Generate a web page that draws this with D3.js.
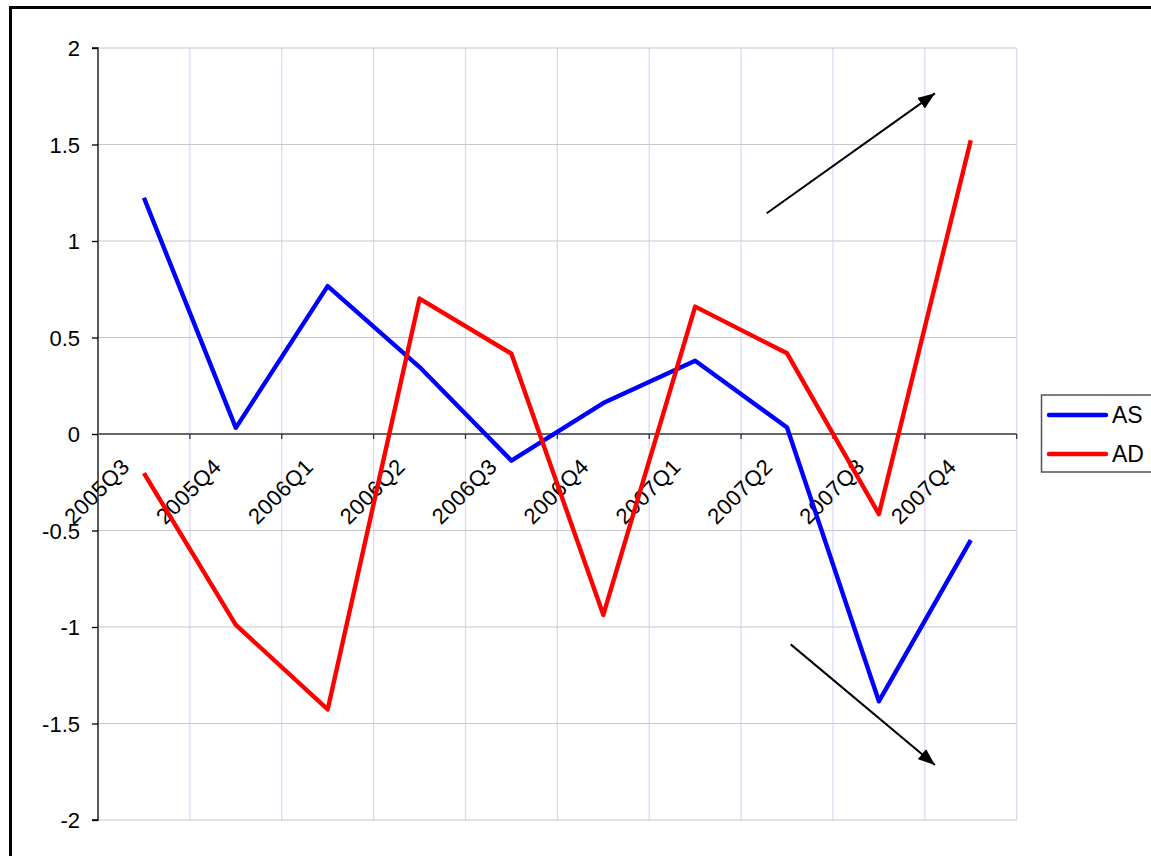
<!DOCTYPE html>
<html>
<head>
<meta charset="utf-8">
<script src="https://cdn.jsdelivr.net/npm/d3@7"></script>
<style>
  html, body { margin: 0; padding: 0; background: #fff; }
  svg { display: block; font-family: "Liberation Sans", Arial, sans-serif; }
</style>
</head>
<body>
<svg id="chart" width="1151" height="856"></svg>
<script>
// ---- data ----
const categories = ["2005Q3","2005Q4","2006Q1","2006Q2","2006Q3","2006Q4","2007Q1","2007Q2","2007Q3","2007Q4"];
const asValues = [1.224, 0.032, 0.766, 0.347, -0.138, 0.16, 0.38, 0.034, -1.385, -0.55];
const adValues = [-0.203, -0.989, -1.427, 0.702, 0.416, -0.937, 0.66, 0.418, -0.415, 1.522];
const yTicks = [-2, -1.5, -1, -0.5, 0, 0.5, 1, 1.5, 2];
const seriesNames = ["AS", "AD"];
const seriesColors = ["#0000ff", "#ff0000"];
// arrow annotations in data space: [categoryPosition, value]
const arrowStarts = [[7.279, 1.144], [7.540, -1.090]];
const arrowEnds = [[9.110, 1.765], [9.110, -1.715]];

(function () {
// ---- layout ----
const svg = d3.select("#chart");
const pLeft = 98, pRight = 1016.7, pTop = 48, pBottom = 820;
const fontSize = 22;

const x = d3.scaleBand().domain(categories).range([pLeft, pRight]).padding(0);
const xPos = d3.scaleLinear().domain([0, categories.length]).range([pLeft, pRight]);
const y = d3.scaleLinear().domain([-2, 2]).range([pBottom, pTop]);

// outer border
svg.append("rect").attr("x", 10.5).attr("y", 7.5).attr("width", 1300).attr("height", 1000)
  .attr("fill", "#fff").attr("stroke", "#000").attr("stroke-width", 3);

// vertical gridlines at category boundaries
const boundaries = d3.range(1, categories.length + 1);
svg.append("g").selectAll("line").data(boundaries).join("line")
  .attr("x1", d => xPos(d)).attr("x2", d => xPos(d))
  .attr("y1", pTop).attr("y2", pBottom)
  .attr("stroke", "#d6d6ff").attr("stroke-width", 1.2);

// horizontal gridlines
svg.append("g").selectAll("line").data(yTicks.filter(v => v !== 0)).join("line")
  .attr("x1", pLeft).attr("x2", pRight)
  .attr("y1", d => y(d)).attr("y2", d => y(d))
  .attr("stroke", "#c8c8c8").attr("stroke-width", 1.2);

// y axis
const yAxis = d3.axisLeft(y).tickValues(yTicks).tickSize(6).tickPadding(12)
  .tickFormat(d => String(d));
const gy = svg.append("g").attr("transform", `translate(${pLeft},0)`).call(yAxis);
gy.select(".domain").attr("stroke", "#000").attr("stroke-width", 1.3)
  .attr("d", `M-6,${y(2)}H0V${y(-2)}H-6`);
gy.selectAll(".tick line").attr("stroke", "#000").attr("stroke-width", 1.3);
gy.selectAll(".tick text").attr("font-size", fontSize).attr("fill", "#000")
  .attr("font-family", "Liberation Sans, Arial, sans-serif").attr("dy", "0.35em");

// zero (category) axis
const y0 = y(0);
svg.append("line").attr("x1", pLeft).attr("x2", pRight).attr("y1", y0).attr("y2", y0)
  .attr("stroke", "#666").attr("stroke-width", 2);
svg.append("g").selectAll("line").data(boundaries).join("line")
  .attr("x1", d => xPos(d)).attr("x2", d => xPos(d))
  .attr("y1", y0).attr("y2", y0 + 5)
  .attr("stroke", "#333").attr("stroke-width", 1.3);

// category labels
svg.append("g").selectAll("text").data(categories).join("text")
  .attr("transform", d => `translate(${x(d) + x.bandwidth() / 2 - 13},${y0 + 34}) rotate(-45)`)
  .attr("text-anchor", "end")
  .attr("font-size", fontSize).attr("fill", "#000")
  .attr("letter-spacing", 0.5)
  .text(d => d);

// series lines
const line = d3.line().x((d, i) => x(categories[i]) + x.bandwidth() / 2).y(d => y(d));
[asValues, adValues].forEach((vals, k) => {
  svg.append("path").datum(vals).attr("d", line)
    .attr("fill", "none").attr("stroke", seriesColors[k])
    .attr("stroke-width", 4.4).attr("stroke-linejoin", "round");
});

// arrows
svg.append("defs").append("marker")
  .attr("id", "arrowhead").attr("viewBox", "0 0 17 13")
  .attr("refX", 17).attr("refY", 6.5)
  .attr("markerWidth", 17).attr("markerHeight", 13)
  .attr("markerUnits", "userSpaceOnUse").attr("orient", "auto")
  .append("path").attr("d", "M0,0L17,6.5L0,13Z").attr("fill", "#000");
svg.append("g").selectAll("line").data(arrowStarts).join("line")
  .attr("x1", d => xPos(d[0])).attr("y1", d => y(d[1]))
  .attr("x2", (d, i) => xPos(arrowEnds[i][0])).attr("y2", (d, i) => y(arrowEnds[i][1]))
  .attr("stroke", "#000").attr("stroke-width", 2)
  .attr("marker-end", "url(#arrowhead)");

// legend
const lg = svg.append("g");
lg.append("rect").attr("x", 1041.5).attr("y", 395).attr("width", 130).attr("height", 77)
  .attr("fill", "#fff").attr("stroke", "#555").attr("stroke-width", 1.5);
const legendY = d3.scalePoint().domain(seriesNames).range([415, 454]);
seriesNames.forEach((name, k) => {
  lg.append("line").attr("x1", 1049).attr("x2", 1106)
    .attr("y1", legendY(name)).attr("y2", legendY(name))
    .attr("stroke", seriesColors[k]).attr("stroke-width", 4.4).attr("stroke-linecap", "round");
  lg.append("text").attr("x", 1112).attr("y", legendY(name)).attr("dy", "0.36em")
    .attr("font-size", 23).attr("fill", "#000").text(name);
});
})();
</script>
</body>
</html>
